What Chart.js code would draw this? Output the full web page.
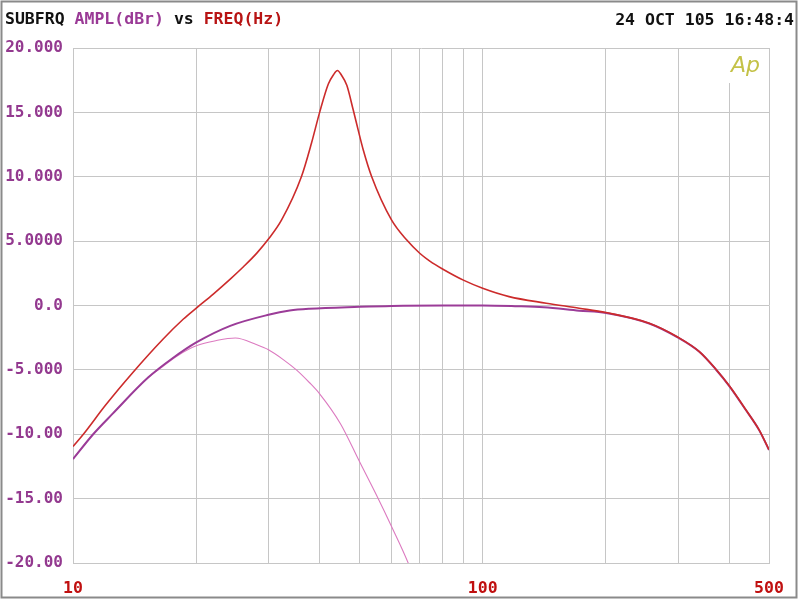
<!DOCTYPE html>
<html>
<head>
<meta charset="utf-8">
<script src="https://cdn.jsdelivr.net/npm/chart.js@4/dist/chart.umd.min.js"></script>
<style>
  html, body { margin: 0; padding: 0; background: #ffffff; }
  #wrap { position: relative; width: 800px; height: 599px; }
  canvas { display: block; }
</style>
</head>
<body>
<div id="wrap"><canvas id="c" width="800" height="599"></canvas></div>
<script>
// ---- data (frequency in Hz, amplitude in dBr) ----
const freqRed = [10, 10.6, 12, 14.0, 16.6, 18.6, 20, 22, 24.2, 26.1, 28.1, 30, 32.3, 36.1, 38.2, 40, 42.0, 43.2, 44.2, 45.2, 46.6, 48.3, 49.7, 51.1, 53.6, 59.9, 65.2, 70.2, 74.3, 80, 90, 100, 116, 143, 172, 200, 255, 300, 338, 371, 400, 439, 473, 500];
const ampRed  = [-10.95, -10.0, -7.75, -5.2, -2.6, -1.05, -0.2, 0.89, 2.05, 3.03, 4.07, 5.16, 6.65, 10.0, 12.6, 15.0, 17.2, 17.9, 18.25, 17.9, 17.1, 15.2, 13.6, 12.1, 10.0, 6.65, 5.1, 4.06, 3.45, 2.82, 1.95, 1.34, 0.69, 0.18, -0.21, -0.55, -1.38, -2.47, -3.58, -4.95, -6.24, -8.1, -9.66, -11.2];

const freqPurple = [10, 11.2, 12.5, 15.25, 17.5, 20, 24.2, 30, 33.8, 37.8, 50, 60, 80, 100, 120, 141, 172, 200, 255, 300, 338, 371, 400, 439, 473, 500];
const ampPurple  = [-11.93, -10.0, -8.4, -5.6, -4.1, -2.87, -1.58, -0.72, -0.39, -0.25, -0.1, -0.03, 0.0, 0.0, -0.05, -0.13, -0.4, -0.58, -1.4, -2.5, -3.6, -4.97, -6.26, -8.12, -9.68, -11.22];

const freqPink = [10, 11.2, 12.5, 15.25, 16, 18, 20, 22.4, 24.9, 28.1, 30, 32.6, 35.1, 37.8, 40, 45, 50, 55, 60, 65.8, 70];
const ampPink  = [-11.93, -10.0, -8.4, -5.6, -5.1, -3.9, -3.13, -2.72, -2.52, -3.05, -3.44, -4.2, -5.0, -6.0, -6.86, -9.2, -12.1, -14.7, -17.2, -20.0, -22.3];

const xGridValues  = [10, 20, 30, 40, 50, 60, 70, 80, 90, 100, 200, 300, 400, 500];
const xLabelValues = [10, 100, 500];
const yTickValues  = [20, 15, 10, 5, 0, -5, -10, -15, -20];
const yTickLabels  = ['20.000', '15.000', '10.000', '5.0000', '0.0', '-5.000', '-10.00', '-15.00', '-20.00'];

const titleParts = [
  { text: 'SUBFRQ ', color: '#111111' },
  { text: 'AMPL(dBr)', color: '#9a3a96' },
  { text: ' vs ', color: '#111111' },
  { text: 'FREQ(Hz)', color: '#b81414' }
];
const dateText = '24 OCT 105 16:48:4';
const logoText = 'Ap';

const toPoints = (xs, ys) => xs.map((x, i) => ({ x: x, y: ys[i] }));

const MONO = '"DejaVu Sans Mono", "Liberation Mono", monospace';
const GRID = '#c6c6c6';

const decorPlugin = {
  id: 'decor',
  beforeDatasetsDraw(chart) {
    const ctx = chart.ctx;
    const xs = chart.scales.x;
    const top = chart.chartArea.top;
    // gap in the 400 Hz grid line under the logo
    const px = Math.round(xs.getPixelForValue(400)) + 0.5;
    ctx.save();
    ctx.fillStyle = '#ffffff';
    ctx.fillRect(px - 1.5, top + 1, 3, 34);
    ctx.restore();
  },
  afterDraw(chart) {
    const ctx = chart.ctx;
    ctx.save();
    // outer frame
    ctx.strokeStyle = '#8a8a8a';
    ctx.lineWidth = 2;
    ctx.strokeRect(1.5, 1.5, 795, 596);
    // title
    ctx.font = 'bold 16.5px ' + MONO;
    ctx.textBaseline = 'middle';
    ctx.textAlign = 'left';
    let x = 5;
    titleParts.forEach(p => {
      ctx.fillStyle = p.color;
      ctx.fillText(p.text, x, 20);
      x += ctx.measureText(p.text).width;
    });
    // date
    ctx.fillStyle = '#111111';
    ctx.textAlign = 'right';
    ctx.fillText(dateText, 794, 21);
    // logo
    ctx.font = 'italic 200 22px "DejaVu Sans", sans-serif';
    ctx.fillStyle = '#c4c248';
    ctx.textAlign = 'left';
    ctx.fillText(logoText, 731, 66);
    ctx.restore();
  }
};

new Chart(document.getElementById('c'), {
  type: 'line',
  data: {
    datasets: [
      { label: 'Response', data: toPoints(freqRed, ampRed), borderColor: '#cc2b2b', borderWidth: 1.6, order: 1 },
      { label: 'Sum', data: toPoints(freqPurple, ampPurple), borderColor: '#9b3c98', borderWidth: 2, order: 2 },
      { label: 'Subsonic', data: toPoints(freqPink, ampPink), borderColor: '#dc7ac0', borderWidth: 1.1, order: 3 }
    ]
  },
  options: {
    responsive: false,
    animation: false,
    events: [],
    layout: { padding: { top: 48, right: 31, left: 0, bottom: 0 } },
    elements: {
      point: { radius: 0 },
      line: { cubicInterpolationMode: 'monotone', fill: false }
    },
    plugins: { legend: { display: false }, tooltip: { enabled: false }, title: { display: false } },
    scales: {
      x: {
        type: 'logarithmic',
        min: 10,
        max: 500,
        afterBuildTicks: (scale) => { scale.ticks = xGridValues.map(v => ({ value: v })); },
        afterFit: (scale) => { scale.height = 36; },
        grid: { color: GRID, lineWidth: 1, drawTicks: false },
        border: { color: GRID },
        ticks: {
          autoSkip: false,
          maxRotation: 0,
          padding: 16,
          color: '#c01010',
          font: { family: MONO, size: 16.5, weight: 'bold' },
          callback: (v) => xLabelValues.includes(v) ? String(v) : ''
        }
      },
      y: {
        type: 'linear',
        min: -20,
        max: 20,
        afterBuildTicks: (scale) => { scale.ticks = yTickValues.map(v => ({ value: v })); },
        afterFit: (scale) => { scale.width = 73; },
        grid: { color: GRID, lineWidth: 1, drawTicks: false },
        border: { color: GRID },
        ticks: {
          padding: 10,
          color: '#93398f',
          font: { family: MONO, size: 16, weight: 'bold' },
          callback: (v) => { const i = yTickValues.indexOf(v); return i >= 0 ? yTickLabels[i] : ''; }
        }
      }
    }
  },
  plugins: [decorPlugin]
});
</script>
</body>
</html>
